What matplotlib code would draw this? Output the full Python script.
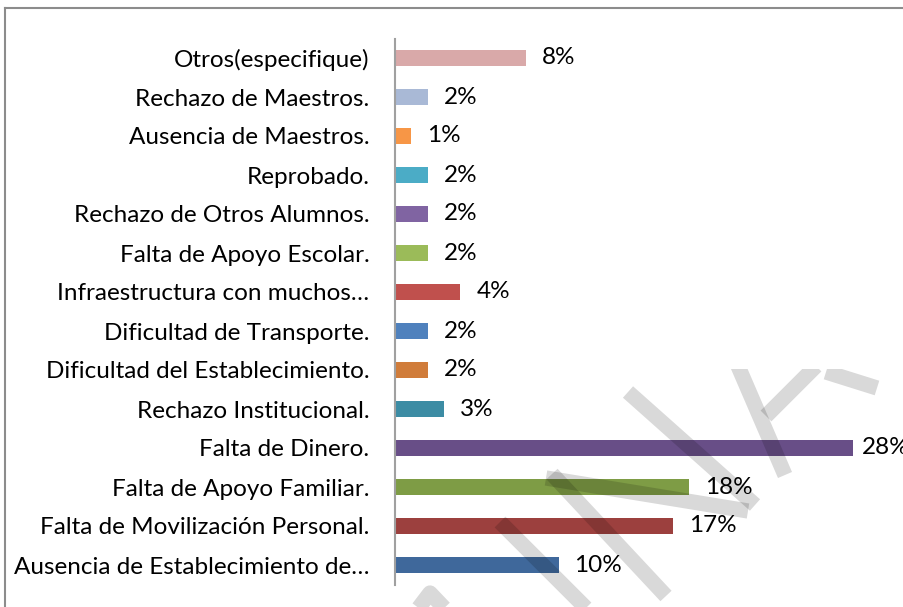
import matplotlib.pyplot as plt
from matplotlib.patches import Rectangle
from matplotlib.lines import Line2D

# categories listed bottom to top, as drawn
categorias = [
    "Ausencia de Establecimiento de…",
    "Falta de Movilización Personal.",
    "Falta de Apoyo Familiar.",
    "Falta de Dinero.",
    "Rechazo Institucional.",
    "Dificultad del Establecimiento.",
    "Dificultad de Transporte.",
    "Infraestructura con muchos…",
    "Falta de Apoyo Escolar.",
    "Rechazo de Otros Alumnos.",
    "Reprobado.",
    "Ausencia de Maestros.",
    "Rechazo de Maestros.",
    "Otros(especifique)",
]
porcentajes = [10, 17, 18, 28, 3, 2, 2, 4, 2, 2, 2, 1, 2, 8]
etiquetas = ["10%", "17%", "18%", "28%", "3%", "2%", "2%", "4%", "2%", "2%", "2%", "1%", "2%", "8%"]
colores = ["#3F689B", "#9C403E", "#7E9C45", "#684E87", "#3C8CA4", "#D07C3A",
           "#4F81BD", "#C0504D", "#9BBB59", "#8064A2", "#4BACC6", "#F79646",
           "#A9B9D6", "#D9A9A9"]

W, H = 904, 607
fig = plt.figure(figsize=(W / 100, H / 100), dpi=100)
fam = ["Lato", "DejaVu Sans"]
fs = 17.5

ax = fig.add_axes([395 / W, 22.5 / H, 458 / W, 546 / H])
y = range(len(categorias))
ax.barh(y, porcentajes, height=0.40, color=colores, zorder=2)
ax.set_xlim(0, 28)
ax.set_ylim(-0.5, len(categorias) - 0.5)
ax.set_yticks(list(y))
ax.set_yticklabels(categorias, fontsize=fs, family=fam)
ax.tick_params(axis="y", length=0, pad=18.5)
ax.set_xticks([])
for s in ["top", "right", "bottom"]:
    ax.spines[s].set_visible(False)
ax.spines["left"].set_color("#A0A0A0")
ax.spines["left"].set_linewidth(1.5)

for i, (v, t) in enumerate(zip(porcentajes, etiquetas)):
    off = 6.5 if v == max(porcentajes) else 11.5
    ax.annotate(t, (v, i), xytext=(off, 0), textcoords="offset points",
                va="center", ha="left", fontsize=fs, family=fam,
                annotation_clip=False, zorder=3)

# outer border of the chart area (partly cropped)
fig.add_artist(Line2D([5 / W, 5 / W], [0, 1 - 8 / H], transform=fig.transFigure,
                      color="#8C8C8C", lw=1.5))
fig.add_artist(Line2D([5 / W, 1], [1 - 8 / H, 1 - 8 / H], transform=fig.transFigure,
                      color="#8C8C8C", lw=1.5))

# watermark strokes (pixel coords, origin top-left)
trazos = [
    [(628, 392), (755, 505)],
    [(546, 478), (748, 511)],
    [(552, 474), (666, 596)],
    [(500, 522), (590, 612)],
    [(414, 614), (430, 593), (450, 614)],
    [(738, 366), (785, 475)],
    [(816, 366), (766, 416)],
    [(826, 372), (877, 388)],
]
clip = Rectangle((0, 0), W, H - 369, transform=None)
for tr in trazos:
    xs = [p[0] / W for p in tr]
    ys = [1 - p[1] / H for p in tr]
    ln = Line2D(xs, ys, transform=fig.transFigure, color="black", alpha=0.15,
                lw=11, solid_capstyle="butt", zorder=5)
    fig.add_artist(ln)
    ln.set_clip_path(clip)

fig.savefig("out.png", dpi=100)
